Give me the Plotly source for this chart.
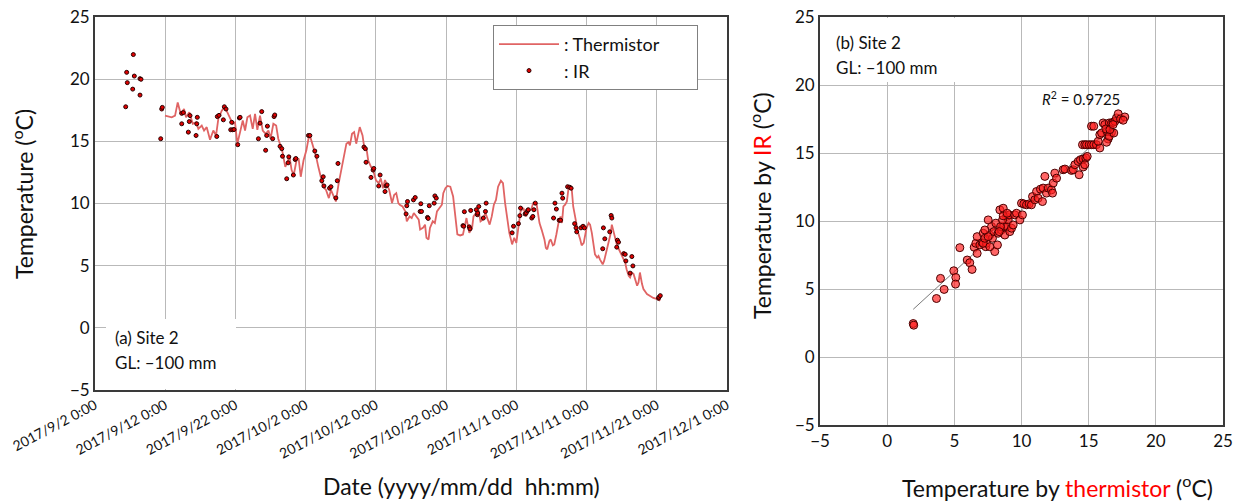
import numpy as np
import pandas as pd
import plotly.graph_objects as go

# ---------------- data ----------------
START = "2017-09-02"

# thermistor: days since 2017/9/2 0:00 and temperature (degC)
therm_day = [9.97, 10.93, 11.40, 11.78, 12.21, 12.68, 12.96, 13.43, 13.92, 14.39, 14.72, 15.20, 15.53,
             15.91, 16.38, 16.85, 17.24, 17.56, 18.05, 18.42, 18.85, 19.23, 19.62, 19.94, 20.27, 20.66,
             21.04, 21.37, 21.70, 22.08, 22.46, 22.79, 23.12, 23.50, 23.89, 24.3, 24.7, 25.0, 25.4, 25.8,
             26.1, 26.4, 26.7, 27.1, 27.3, 27.7, 28.0, 28.3, 28.7, 29.0, 29.3, 29.7, 30.1, 30.4, 30.6,
             30.9, 31.2, 31.5, 31.8, 32.2, 32.5, 32.9, 33.3, 33.6, 33.9, 34.3, 34.7, 35.0, 35.4, 35.8,
             36.1, 36.3, 36.6, 36.9, 37.2, 37.4, 37.7, 38.1, 38.3, 38.7, 38.9, 39.3, 39.6, 40.0, 40.4,
             40.7, 41.0, 41.3, 41.6, 41.9, 42.3, 42.6, 42.9, 43.2, 43.4, 43.8, 44.2, 44.4, 44.8, 45.1,
             45.4, 45.7, 46.1, 46.3, 46.7, 47.0, 47.2, 47.5, 47.7, 48.1, 48.4, 48.7, 49.0, 49.4, 49.6,
             49.9, 50.2, 50.6, 51.0, 51.3, 51.6, 52.0, 52.4, 52.7, 52.9, 53.3, 53.7, 53.9, 54.3, 54.6,
             54.9, 55.2, 55.6, 55.9, 56.2, 56.5, 56.8, 57.1, 57.4, 57.8, 58.1, 58.4, 58.7, 59.0, 59.4,
             59.7, 60.0, 60.3, 60.6, 61.0, 61.4, 61.7, 62.1, 62.4, 62.7, 62.9, 63.1, 63.3, 63.6, 64.0,
             64.2, 64.4, 64.7, 64.9, 65.2, 65.4, 65.7, 66.0, 66.3, 66.5, 66.7, 66.95, 67.2, 67.4, 67.7,
             67.9, 68.1, 68.4, 68.6, 68.8, 69.1, 69.3, 69.6, 69.8, 70.0, 70.3, 70.5, 70.75, 71.0, 71.2,
             71.5, 71.7, 71.9, 72.3, 72.5, 72.8, 73.1, 73.4, 73.6, 73.8, 74.1, 74.3, 74.5, 74.8, 75.0,
             75.3, 75.5, 75.7, 76.0, 76.2, 76.45, 76.7, 76.9, 77.2, 77.4, 77.6, 77.9, 78.1, 78.6, 79.1,
             79.5, 80.0, 80.5]
therm_temp = [17.07, 16.93, 17.07, 18.13, 17.20, 17.60, 16.93, 17.33, 16.41, 16.53, 16.00, 16.27, 15.87,
              16.14, 15.13, 15.87, 15.47, 16.80, 17.47, 17.73, 17.33, 16.80, 16.41, 16.53, 14.81, 15.74,
              16.67, 15.87, 16.93, 17.07, 16.00, 17.20, 15.93, 17.07, 15.87, 15.60, 15.87, 15.21, 16.41, 16.27,
              15.21, 14.68, 14.14, 12.95, 13.22, 13.75, 12.69, 12.29, 13.48, 13.62, 12.15, 13.48, 14.28, 15.21, 15.47,
              14.94, 14.28, 13.75, 12.95, 11.89, 11.35, 11.09, 10.43, 11.09, 10.69, 10.16, 11.62, 12.42, 13.48, 14.81,
              14.94, 14.68, 15.61, 15.74, 14.81, 15.34, 16.14, 15.47, 14.68, 14.28, 13.48, 12.95, 12.69, 11.89, 11.62,
              12.02, 11.23, 11.89, 11.49, 11.09, 10.03, 10.69, 10.83, 10.03, 9.90, 9.76, 9.36, 8.57, 8.96, 8.83,
              9.23, 8.96, 8.70, 7.90, 8.04, 8.30, 7.24, 7.11, 8.04, 8.57, 8.43, 9.36, 9.63, 9.90, 10.83,
              11.23, 11.41, 11.35, 10.56, 9.23, 7.51, 7.43, 7.51, 8.30, 8.83, 7.64, 8.04, 8.96, 9.23, 9.50,
              8.57, 8.70, 9.23, 8.83, 8.30, 8.96, 9.90, 10.29, 11.35, 11.83, 11.63, 10.03, 8.70, 7.64, 6.71,
              7.24, 6.84, 8.17, 9.36, 9.63, 8.96, 9.36, 9.50, 10.03, 10.03, 9.90, 8.96, 8.43, 7.90, 7.11,
              6.44, 6.31, 6.97, 7.11, 6.63, 6.71, 7.51, 8.43, 8.96, 8.43, 9.76, 9.90, 10.16, 11.09, 11.35,
              11.09, 9.76, 8.70, 8.04, 7.64, 7.11, 6.63, 6.84, 7.64, 8.04, 8.43, 8.30, 7.64, 6.57, 5.91,
              5.65, 5.78, 5.51, 5.11, 5.38, 6.05, 6.84, 7.51, 8.30, 7.77, 7.11, 6.71, 6.44, 6.05, 5.91,
              5.51, 5.25, 4.72, 4.18, 4.05, 4.45, 4.32, 3.92, 3.39, 3.65, 4.45, 3.52, 3.12, 2.72, 2.53,
              2.40, 2.33, 2.19]

# IR: days since 2017/9/2 0:00 and temperature (degC)
ir_day = [4.37, 4.51, 4.60, 5.37, 5.46, 5.60, 6.41, 6.55, 6.41, 9.36, 9.50, 9.59, 12.35, 12.58, 12.35,
          13.29, 13.43, 13.53, 14.39, 14.49, 14.57, 17.34, 17.42, 17.66, 18.28, 18.42, 18.66, 19.33, 19.47,
          19.61, 19.80, 20.33, 20.56, 20.66, 23.27, 23.50, 23.74, 24.30, 24.45, 24.55, 25.30, 25.50, 25.60,
          26.35, 26.60, 26.70, 27.30, 27.50, 27.60, 28.25, 28.50, 28.60, 30.40, 30.60, 31.30, 31.60, 32.30,
          32.50, 32.60, 33.40, 33.60, 34.30, 34.50, 34.60, 38.30, 38.50, 38.60, 39.30, 39.60, 39.70, 40.40,
          40.60, 41.30, 41.45, 41.60, 44.30, 44.40, 44.50, 45.35, 45.60, 46.30, 46.40, 46.50, 47.35, 47.45,
          47.60, 48.30, 48.40, 48.60, 52.40, 52.50, 52.60, 53.30, 53.40, 53.50, 54.30, 54.45, 54.50, 54.65,
          55.30, 55.60, 55.70, 59.40, 59.60, 60.30, 60.50, 60.60, 61.25, 61.40, 61.60, 61.70, 62.20, 62.35,
          62.50, 62.70, 65.30, 65.50, 65.70, 66.10, 66.30, 66.50, 66.60, 67.30, 67.60, 67.80, 68.30, 68.50,
          68.60, 69.20, 69.50, 69.70, 72.30, 72.40, 72.60, 73.30, 73.50, 73.60, 74.30, 74.40, 74.55, 75.30,
          75.50, 75.60, 76.20, 76.45, 76.60, 80.25, 80.30, 80.50]
ir_temp = [17.78, 20.55, 19.72, 19.20, 21.98, 20.25, 20.04, 19.99, 18.72, 15.21, 17.60, 17.73, 17.25, 17.31, 16.41,
           15.74, 16.59, 17.07, 15.47, 16.41, 16.93, 15.39, 16.99, 17.09, 16.73, 17.78, 17.60, 15.93, 16.53,
           15.93, 15.95, 14.73, 16.88, 16.93, 15.21, 16.46, 17.39, 14.28, 15.47, 16.22, 15.21, 16.99, 17.12,
           14.60, 14.41, 13.80, 11.99, 13.27, 13.75, 12.29, 13.54, 13.62, 15.47, 15.47, 14.22, 13.80, 11.83,
           12.15, 11.41, 11.23, 11.35, 10.45, 11.83, 13.22, 14.54, 14.41, 13.32, 12.10, 12.69, 12.82, 11.41,
           12.29, 10.96, 11.41, 11.49, 9.16, 9.82, 10.16, 10.29, 10.48, 9.36, 9.98, 9.36, 8.88, 8.80,
           9.82, 10.03, 10.61, 10.43, 8.22, 8.17, 9.34, 8.12, 7.96, 9.44, 9.50, 9.10, 9.23, 9.76,
           8.83, 9.36, 10.03, 7.64, 8.17, 8.38, 9.02, 9.63, 9.16, 9.23, 9.42, 9.50, 8.83, 8.96,
           9.50, 10.03, 8.83, 10.03, 9.55, 8.65, 8.65, 10.83, 10.43, 11.35, 11.31, 11.23, 8.38, 8.04,
           7.72, 8.04, 8.17, 8.04, 6.36, 8.04, 7.16, 7.72, 9.04, 8.83, 6.49, 7.05, 6.89, 5.97,
           5.91, 5.38, 4.40, 5.73, 4.98, 2.38, 2.46, 2.59]

# scatter: thermistor (x) vs IR (y)
sc_therm = [1.94, 1.98, 3.67, 3.97, 4.24, 4.96, 5.11, 5.09, 5.41, 5.96, 6.15, 6.32, 6.48, 6.60, 6.70, 6.90,
            7.07, 7.15, 7.34, 7.39, 7.52, 7.64, 7.77, 7.84, 8.01, 7.94, 8.09, 8.21, 8.26, 8.39, 8.51, 8.64,
            8.68, 8.76, 8.88, 8.93, 9.01, 9.08, 9.13, 9.26, 9.38, 9.50, 9.63, 9.88, 10.07, 10.00, 10.17, 10.37,
            10.57, 10.74, 10.82, 10.99, 11.12, 11.24, 11.41, 11.56, 11.61, 11.74, 11.86, 11.99, 12.23, 12.31,
            12.36, 12.48, 12.61, 13.10, 13.23, 13.72, 13.85, 13.97, 14.29, 14.22, 14.39, 14.59, 14.79, 14.89,
            14.59, 14.71, 14.54, 14.71, 14.84, 15.04, 15.21, 15.38, 15.58, 15.83, 15.71, 15.21, 15.38, 16.08,
            16.20, 16.53, 16.70, 16.82, 16.95, 17.07, 17.20, 17.37, 17.69, 15.83, 15.96, 16.38, 16.70, 16.45,
            16.33, 16.53, 16.87, 16.28, 16.58, 16.82, 17.57, 7.15, 7.27, 7.52, 7.64, 8.44, 8.59, 8.34, 7.27,
            6.70, 8.64, 8.93]
sc_ir = [2.46, 2.34, 4.30, 5.78, 4.97, 6.34, 5.85, 5.36, 8.04, 7.13, 6.93, 6.44, 8.07, 8.36, 8.85, 8.24,
         8.41, 9.10, 8.11, 8.36, 10.08, 8.97, 9.59, 8.73, 7.75, 9.22, 9.84, 8.24, 9.10, 10.82, 9.34, 10.94,
         9.59, 8.97, 10.33, 9.59, 10.08, 10.45, 9.22, 9.47, 9.71, 10.45, 10.57, 10.08, 10.45, 11.31, 11.26, 11.19,
         11.26, 11.19, 11.80, 11.56, 12.17, 11.68, 12.34, 11.43, 12.42, 13.28, 12.05, 12.42, 12.29, 12.05,
         12.79, 13.52, 13.15, 13.77, 13.82, 13.72, 13.77, 14.14, 13.40, 14.38, 14.51, 14.56, 14.63, 14.75,
         13.97, 14.14, 15.61, 15.61, 15.61, 15.61, 15.61, 15.61, 15.61, 15.37, 15.86, 16.97, 16.97, 17.21,
         17.09, 17.21, 17.21, 17.26, 17.33, 17.58, 17.88, 17.51, 17.65, 16.35, 16.47, 16.60, 16.52, 16.03,
         15.79, 16.23, 16.47, 16.77, 16.72, 17.09, 17.41, 8.36, 8.73, 8.85, 8.11, 9.59, 10.08, 9.22, 9.34,
         7.62, 10.38, 10.57]

r2_text = "0.9725"

tick_days = [0, 10, 20, 30, 40, 50, 60, 70, 80, 90]
tick_text = ["2017/9/2 0:00", "2017/9/12 0:00", "2017/9/22 0:00", "2017/10/2 0:00", "2017/10/12 0:00",
             "2017/10/22 0:00", "2017/11/1 0:00", "2017/11/11 0:00", "2017/11/21 0:00", "2017/12/1 0:00"]
temp_ticks = [-5, 0, 5, 10, 15, 20, 25]

# ---------------- figure ----------------
W, H = 1242, 502
FONT = "Lato, 'Open Sans', sans-serif"
start = pd.Timestamp(START)
to_date = lambda d: start + pd.to_timedelta(np.asarray(d, dtype=float), unit="D")


def px(v):
    return v / W


def py(v):
    return 1 - v / H


fig = go.Figure()

PAD = "\u00a0" * 7
fig.add_trace(go.Scatter(
    x=to_date(therm_day), y=therm_temp, mode="lines", name=": Thermistor" + PAD,
    line=dict(color="#e06464", width=1.8), xaxis="x", yaxis="y"))
fig.add_trace(go.Scatter(
    x=to_date(ir_day), y=ir_temp, mode="markers", name=": IR",
    marker=dict(color="#e00000", size=4, line=dict(color="#2a0000", width=1)),
    xaxis="x", yaxis="y"))

# regression line through scatter
coef = np.polyfit(sc_therm, sc_ir, 1)
xl = np.array([min(sc_therm), max(sc_therm)])
fig.add_trace(go.Scatter(
    x=xl, y=np.polyval(coef, xl), mode="lines", line=dict(color="#7a7a7a", width=1),
    showlegend=False, xaxis="x2", yaxis="y2", hoverinfo="skip"))
fig.add_trace(go.Scatter(
    x=sc_therm, y=sc_ir, mode="markers", showlegend=False,
    marker=dict(color="rgba(255,30,30,0.68)", size=8, line=dict(color="#4a0000", width=1)),
    xaxis="x2", yaxis="y2"))

grid = "#b9b9b9"
axis_common = dict(showgrid=True, gridcolor=grid, gridwidth=1.2, zeroline=False,
                   showline=True, linecolor="#3a3a3a", linewidth=1.8, mirror=True,
                   ticks="", automargin=False, ticklabeloverflow="allow",
                   tickfont=dict(family=FONT, size=17, color="#111"))

fig.update_layout(
    width=W, height=H, margin=dict(l=0, r=0, t=0, b=0),
    paper_bgcolor="white", plot_bgcolor="white",
    font=dict(family=FONT, color="#111"),
    xaxis=dict(domain=[px(95), px(727)], type="date",
               range=[to_date([0])[0], to_date([90])[0]],
               tickvals=list(to_date(tick_days)), ticktext=tick_text, tickangle=-28,
               **{**axis_common, "tickfont": dict(family=FONT, size=14, color="#111")}),
    yaxis=dict(domain=[py(390), py(17)], range=[-5, 25], tickvals=temp_ticks, anchor="x",
               **axis_common),
    xaxis2=dict(domain=[px(820), px(1223)], range=[-5, 25], tickvals=temp_ticks, anchor="y2",
                **axis_common),
    yaxis2=dict(domain=[py(425), py(17)], range=[-5, 25], tickvals=temp_ticks, anchor="x2",
                **axis_common),
    legend=dict(x=px(493), y=py(25), xanchor="left", yanchor="top", bgcolor="white",
                bordercolor="#808080", borderwidth=1, itemwidth=60,
                font=dict(family=FONT, size=18, color="#111"), tracegroupgap=2),
    showlegend=True,
)

# white label boxes
fig.add_shape(type="rect", xref="paper", yref="paper", x0=px(106), x1=px(236), y0=py(389), y1=py(319),
              fillcolor="white", line=dict(width=0), layer="above")
fig.add_shape(type="rect", xref="paper", yref="paper", x0=px(821), x1=px(957), y0=py(82), y1=py(18),
              fillcolor="white", line=dict(width=0), layer="above")

ann = []
lbl = dict(xref="paper", yref="paper", showarrow=False, xanchor="left", yanchor="middle",
           font=dict(family=FONT, size=17, color="#111"))
ann.append(dict(text="(a) Site 2", x=px(113), y=py(337), **lbl))
ann.append(dict(text="GL: \u2013100 mm", x=px(113), y=py(362), **lbl))
ann.append(dict(text="(b) Site 2", x=px(834), y=py(42), **lbl))
ann.append(dict(text="GL: \u2013100 mm", x=px(834), y=py(67), **lbl))
ann.append(dict(text="<i>R</i><sup>2</sup> = " + r2_text, xref="x2", yref="y2", x=14.4, y=19.0,
                xanchor="center", yanchor="middle",
                showarrow=False, font=dict(family=FONT, size=15, color="#111")))

title_font = dict(family=FONT, size=23, color="#111")
tt = dict(xref="paper", yref="paper", showarrow=False, xanchor="center", yanchor="middle",
          font=title_font)
ann.append(dict(text="Date (yyyy/mm/dd  hh:mm)", x=px(461), y=py(486), **tt))
ann.append(dict(text="Temperature (<sup>o</sup>C)", x=px(22), y=py(194), textangle=-90, **tt))
ann.append(dict(text="Temperature by <span style='color:#ff0000'>IR</span> (<sup>o</sup>C)",
                x=px(760), y=py(206), textangle=-90, **tt))
ann.append(dict(text="Temperature by <span style='color:#ff0000'>thermistor</span> (<sup>o</sup>C)",
                x=px(1057), y=py(486), **tt))
fig.update_layout(annotations=ann)

# remove the default page margin so the 1242x502 figure fills the window exactly
fig.write_html("out.html", config={"displayModeBar": False},
               post_script="document.body.style.margin='0px';"
                           "document.documentElement.style.overflow='hidden';")
